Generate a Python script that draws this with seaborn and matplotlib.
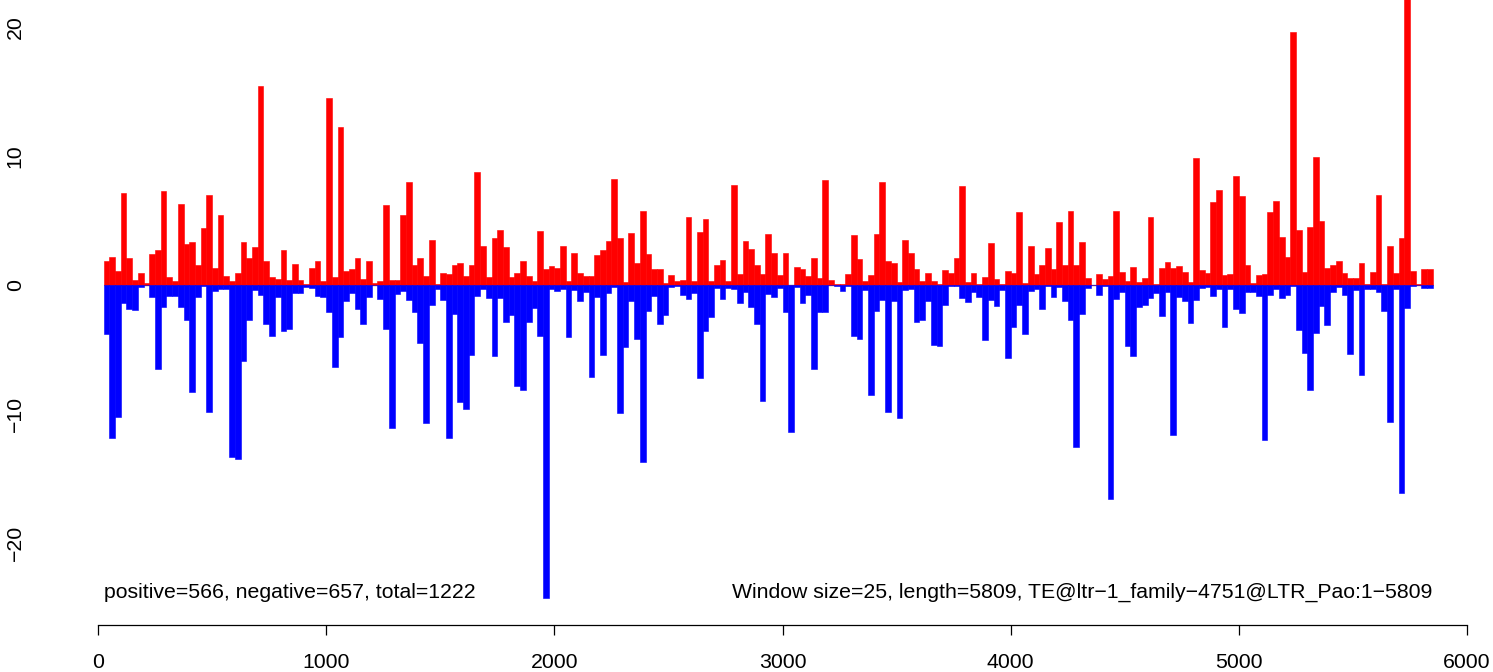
import numpy as np
import pandas as pd
import seaborn as sns
import matplotlib.pyplot as plt

window = 25
seq_length = 5809
te_name = 'TE@ltr\u22121_family\u22124751@LTR_Pao:1\u22125809'
n_pos, n_neg, n_total = 566, 657, 1222

# signal per 25 bp window
pos = [1.86, 2.17, 1.09, 7.13, 2.09, 0.39, 0.93, 0.18, 2.4, 2.71,
       7.29, 0.62, 0.31, 6.28, 3.18, 3.33, 1.55, 4.42, 6.98, 1.32,
       5.43, 0.7, 0.31, 0.93, 3.33, 2.09, 2.95, 15.4, 1.86, 0.62,
       0.47, 2.71, 0.39, 1.63, 0.39, 0.08, 1.32, 1.86, 0.31, 14.5,
       0.62, 12.25, 1.09, 1.24, 2.09, 0.47, 1.86, 0.16, 0.31, 6.2,
       0.39, 0.39, 5.43, 7.98, 1.55, 2.09, 0.7, 3.49, 0.05, 0.93,
       0.85, 1.55, 1.7, 0.7, 1.55, 8.76, 3.02, 0.62, 3.64, 4.26,
       2.95, 0.62, 0.93, 1.86, 0.7, 0.31, 4.19, 1.24, 1.47, 1.32,
       3.02, 0.31, 2.48, 0.93, 0.7, 0.7, 2.33, 2.71, 3.41, 8.22,
       3.64, 0.23, 4.03, 1.71, 5.74, 2.4, 1.24, 1.24, 0.16, 0.78,
       0.31, 0.39, 5.27, 0.31, 4.11, 5.12, 0.31, 1.55, 1.94, 0.31,
       7.75, 0.85, 3.41, 2.79, 1.55, 0.85, 3.95, 2.48, 0.78, 2.48,
       0.0, 1.4, 1.24, 0.7, 2.09, 0.54, 8.14, 0.39, 0.05, 0.08,
       0.85, 3.88, 2.02, 0.31, 0.78, 3.95, 7.98, 1.86, 1.71, 0.23,
       3.49, 2.48, 1.24, 0.31, 0.93, 0.31, 0.08, 1.16, 0.93, 2.09,
       7.67, 0.23, 0.93, 0.05, 0.62, 3.26, 0.47, 0.08, 1.09, 0.93,
       5.66, 0.16, 3.02, 0.85, 1.55, 2.87, 1.24, 4.88, 1.55, 5.74,
       1.55, 3.33, 0.54, 0.0, 0.85, 0.47, 0.7, 5.74, 1.01, 0.31,
       1.4, 0.23, 0.54, 5.27, 0.08, 1.32, 1.78, 1.32, 1.47, 1.01,
       0.23, 9.84, 1.16, 0.93, 6.43, 7.36, 0.78, 0.85, 8.45, 6.9,
       1.55, 0.16, 0.78, 0.85, 5.66, 6.51, 3.72, 2.17, 19.6, 4.26,
       1.01, 4.5, 9.92, 4.96, 1.32, 1.55, 1.86, 0.93, 0.54, 0.54,
       1.71, 0.08, 1.01, 6.98, 0.08, 3.02, 0.93, 3.64, 27.0, 1.09,
       0.08, 1.24, 1.24]

neg = [-3.77, -11.83, -10.2, -1.37, -1.83, -1.91, -0.13, 0.0, -0.9, -6.49,
       -1.68, -0.83, -0.83, -1.68, -2.69, -8.27, -0.9, -0.05, -9.82, -0.44,
       -0.28, -0.28, -13.3, -13.5, -5.87, -2.69, -0.39, -0.75, -3.0, -3.93,
       -0.9, -3.54, -3.39, -0.59, -0.59, -0.13, -0.21, -0.83, -0.9, -2.07,
       -6.33, -4.0, -1.21, -0.59, -1.83, -3.0, -0.9, 0.0, -1.09, -3.39,
       -11.06, -0.7, -0.47, -1.16, -2.09, -4.47, -10.67, -1.52, -0.31, -1.14,
       -11.83, -2.22, -9.04, -9.59, -5.43, -0.83, -0.31, -0.98, -5.48, -0.98,
       -2.84, -2.3, -7.8, -8.11, -2.84, -1.78, -3.93, -24.3, -0.31, -0.44,
       -0.31, -4.0, -0.39, -1.21, -0.54, -7.1, -0.9, -5.4, -0.59, -0.13,
       -9.9, -4.78, -1.21, -4.16, -13.7, -1.99, -0.83, -3.0, -2.3, -0.13,
       -0.08, -0.75, -1.06, -0.59, -7.18, -3.54, -2.45, -0.21, -1.06, -0.21,
       -0.28, -1.37, -0.52, -1.68, -3.0, -8.97, -0.67, -0.9, -0.23, -2.07,
       -11.37, -0.16, -1.37, -0.75, -6.49, -2.07, -2.07, 0.0, -0.05, -0.44,
       -0.05, -3.93, -4.16, -0.39, -8.5, -1.99, -1.14, -9.82, -1.21, -10.28,
       -0.39, -0.31, -2.84, -2.69, -1.21, -4.63, -4.7, -1.52, -0.05, -0.05,
       -0.98, -1.29, -0.52, -0.9, -4.24, -1.14, -1.6, -0.36, -5.63, -3.23,
       -1.52, -3.77, -0.44, -0.28, -1.83, -0.05, -0.9, -0.13, -1.21, -2.69,
       -12.53, -2.22, -0.21, 0.0, -0.75, -0.05, -16.56, -1.06, -0.52, -4.7,
       -5.48, -1.68, -1.52, -0.98, -0.59, -2.38, -0.52, -11.6, -0.9, -1.21,
       -2.92, -1.14, -0.21, -0.13, -0.83, -0.28, -3.23, -0.31, -1.83, -2.14,
       -0.54, -0.54, -0.83, -11.99, -0.75, -0.28, -0.98, -0.75, -0.08, -3.46,
       -5.25, -8.11, -3.7, -1.6, -3.07, -0.52, -0.13, -0.75, -5.32, -0.36,
       -6.95, -0.28, -0.28, -0.52, -1.99, -10.6, -0.28, -16.1, -1.76, -0.05,
       0.0, -0.21, -0.21]

start = np.arange(1, len(pos) + 1) * window
df = pd.DataFrame({'mid': start + window / 2, 'pos': pos, 'neg': neg})

sns.set_style('ticks')
plt.rcParams['font.family'] = ['Liberation Sans', 'DejaVu Sans']
fs = 15.3

fig = plt.figure(figsize=(14.93, 6.72), dpi=100)
ax = fig.add_axes([50.5 / 1493, 47 / 672, (1486 - 50.5) / 1493, 625 / 672])

# thin grey baseline under the bars, only over the windows
ax.hlines(0, start[0], start[-1] + window, color='grey', lw=1, zorder=0)
sns.barplot(data=df, x='mid', y='pos', native_scale=True, width=1, color='red',
            saturation=1, errorbar=None, linewidth=0.4, edgecolor='red', ax=ax)
sns.barplot(data=df, x='mid', y='neg', native_scale=True, width=1, color='blue',
            saturation=1, errorbar=None, linewidth=0.4, edgecolor='blue', ax=ax)

ax.set_xlim(-208, 6083)
ax.set_ylim(-26.36, 22.09)
ax.set_xticks(range(0, 6001, 1000))
ax.set_yticks([-20, -10, 0, 10, 20])
ax.set_xlabel('')
ax.set_ylabel('')

for s in ['top', 'right', 'left']:
    ax.spines[s].set_visible(False)
ax.spines['bottom'].set_bounds(0, 6000)
ax.spines['bottom'].set_linewidth(0.9)
ax.spines['bottom'].set_color('black')

ax.tick_params(axis='x', bottom=True, direction='out', length=7, width=0.9,
               colors='black', labelsize=fs, pad=13.5)
ax.tick_params(axis='y', left=False, colors='black', labelsize=fs, pad=15)
for lab in ax.get_yticklabels():
    lab.set_rotation(90)
    lab.set_va('center')

ax.text(start[0], -23.85, f'positive={n_pos}, negative={n_neg}, total={n_total}',
        ha='left', va='center', fontsize=fs, color='black')
ax.text(start[-1] + window, -23.85,
        f'Window size={window}, length={seq_length}, {te_name}',
        ha='right', va='center', fontsize=fs, color='black')

fig.savefig('out.png', dpi=100)
